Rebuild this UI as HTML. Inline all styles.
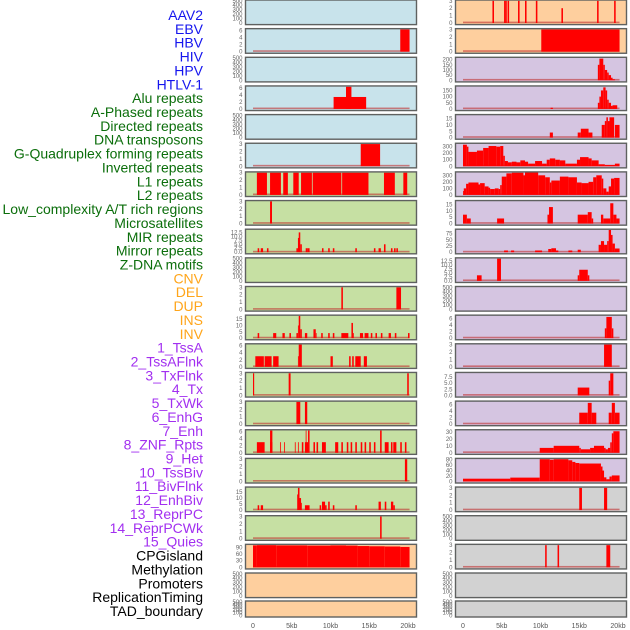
<!DOCTYPE html>
<html><head><meta charset="utf-8">
<style>
html,body{margin:0;padding:0;background:#fff;}
svg{display:block;font-family:"Liberation Sans",sans-serif;}
</style></head>
<body>
<svg id="chart" width="630" height="630" viewBox="0 0 630 630" xmlns="http://www.w3.org/2000/svg">
<g id="labels"></g>
<g id="panels"></g>
<g id="xaxis"></g>
</svg>
<script>
// ---- data ----
const trackLabels = ["AAV2","EBV","HBV","HIV","HPV","HTLV-1","Alu repeats","A-Phased repeats","Directed repeats","DNA transposons","G-Quadruplex forming repeats","Inverted repeats","L1 repeats","L2 repeats","Low_complexity A/T rich regions","Microsatellites","MIR repeats","Mirror repeats","Z-DNA motifs","CNV","DEL","DUP","INS","INV","1_TssA","2_TssAFlnk","3_TxFlnk","4_Tx","5_TxWk","6_EnhG","7_Enh","8_ZNF_Rpts","9_Het","10_TssBiv","11_BivFlnk","12_EnhBiv","13_ReprPC","14_ReprPCWk","15_Quies","CPGisland","Methylation","Promoters","ReplicationTiming","TAD_boundary"];
const labelGroups = [6,13,5,15,5];
const xTicks = [0,5,10,15,20];
const xTickLabels = ["0","5kb","10kb","15kb","20kb"];

const leftBg = ["b","b","b","b","b","b","g","g","g","g","g","g","g","g","g","g","g","g","g","o","o","o"];
const leftMax = [500,6.3,500,6.3,500,3,3,3,14,500,3,17.5,6.3,3,3,6.3,3,18.5,3,100,500,500];
const leftHasData = [0,1,0,1,0,1,1,1,1,0,1,1,1,1,1,1,1,1,1,1,0,0];
const leftSegs = [
 [],
 [[19.0,20.2,6.3]],
 [],
 [[10.4,14.6,3.4],[12.0,12.7,6.3]],
 [],
 [[13.9,16.4,3]],
 [[0.5,1.8,3],[2.2,3.6,3],[3.9,4.5,3],[5.2,5.9,3],[6.2,7.6,3],[7.7,11.4,3],[11.5,14.9,3],[16.9,18.3,3],[19.4,19.9,3]],
 [[2.2,2.45,3]],
 [[0.6,0.8,2.5],[1.0,1.3,2.5],[1.8,2.0,2.5],[5.6,5.8,2.5],[5.8,6.0,9],[5.9,6.1,12.5],[6.1,6.3,5],[6.8,7.0,2.5],[7.0,7.3,2.5],[8.9,9.1,2.5],[9.7,9.9,2.5],[10.3,10.5,2.5],[13.2,13.4,2.5],[15.6,15.8,2.5],[16.2,16.5,2.5],[16.9,17.1,5],[17.8,18.0,2.5],[18.2,18.4,2.5],[18.5,18.7,2.5]],
 [],
 [[11.4,11.6,3],[18.5,19.1,3]],
 [[0.6,0.8,4],[2.6,3.0,4],[3.8,4.1,4],[4.7,4.9,4],[5.6,5.8,4],[5.8,5.9,10],[5.9,6.1,17.5],[6.1,6.3,7],[6.7,7.0,4],[7.8,8.1,7],[8.1,8.2,4],[8.8,9.0,4],[9.7,9.9,4],[10.3,10.5,4],[11.4,12.3,4],[12.7,12.9,12],[12.9,13.0,4],[13.8,14.2,4],[14.4,14.9,4],[15.2,15.4,4],[15.8,16.0,4],[16.5,16.7,4],[17.5,17.8,4],[18.3,18.5,4],[20.0,20.2,4]],
 [[0.3,1.4,3],[1.5,2.4,3],[2.6,3.3,3],[5.8,5.9,3],[5.9,6.3,6.3],[10.0,10.3,3],[12.4,12.6,3],[12.8,13.0,3],[13.2,13.9,3],[14.3,14.7,3]],
 [[0,0.15,3],[4.6,4.85,3],[19.9,20.1,3]],
 [[5.6,6.1,3],[6.7,7.0,3]],
 [[0.5,1.5,3],[2.2,2.5,6.3],[2.2,2.5,3],[3.5,3.6,3],[4.0,4.1,3],[5.4,5.5,3],[5.8,5.9,3],[6.3,6.5,3],[6.7,7.1,3],[6.8,6.9,6.3],[7.1,7.3,6.3],[7.8,8.0,3],[8.2,8.4,3],[8.9,9.4,3],[10.6,11.0,3],[11.4,11.6,3],[12.1,12.3,3],[12.6,12.8,3],[13.2,13.4,3],[13.9,14.1,3],[14.4,14.6,3],[15.0,15.2,3],[15.6,15.8,3],[16.4,16.6,6.3],[17.0,17.5,3],[17.8,18.0,3],[18.1,18.5,3],[19.0,19.2,3],[19.6,19.8,3]],
 [[19.6,19.9,3]],
 [[0.6,0.8,4],[1.0,1.3,4],[5.7,5.8,13],[5.8,6.0,18.5],[6.0,6.2,10],[6.2,6.3,6],[6.7,7.3,4],[8.6,8.8,4],[8.9,9.3,7],[9.3,9.5,4],[9.7,9.9,7],[10.3,10.5,4],[13.2,13.4,4],[16.2,16.5,7],[17.0,17.2,7],[17.8,18.1,7],[18.1,18.3,4]],
 [[16.4,16.6,3]],
 [[0,0.5,99],[0.5,3,100],[3,7,99],[7,10,98],[10,12,99],[12,13.5,98],[13.5,15,96],[15,17,95],[17,19,94],[19,20.2,92]],
 [],
 []
];

const rightBg = ["o","o","p","p","p","p","p","p","p","p","p","p","p","p","p","p","p","y","y","y","y","y"];
const rightMax = [3,3,215,180,17.5,340,340,17.5,90,14,500,6.8,3,9,6.8,32,82,3,500,3,500,500];
const rightHasData = [1,1,1,1,1,1,1,1,1,1,0,1,1,1,1,1,1,1,0,1,0,0];
const rightSegs = [
 [[3.8,4.0,3],[5.3,5.5,3],[5.5,5.65,3],[5.75,5.95,3],[7.1,7.3,3],[8.0,8.2,3],[9.4,9.6,3],[12.7,12.9,2],[17.3,17.5,3],[19.5,19.7,3]],
 [[10.1,20.2,3]],
 [[17.4,17.6,150],[17.6,18.1,210],[18.1,18.3,150],[18.3,18.6,100],[18.6,18.8,75],[18.8,19.1,50],[19.1,19.3,25],[19.3,19.6,10]],
 [[11.3,11.6,10],[17.4,17.6,50],[17.6,17.8,100],[17.8,18.1,150],[18.1,18.4,175],[18.4,18.6,150],[18.6,18.8,75],[18.8,19.1,50],[19.1,19.3,25],[19.3,19.9,30]],
 [[11.2,11.6,4],[14.8,15.2,4],[15.2,16.2,7],[16.2,16.7,4],[17.9,18.3,10],[18.3,18.5,13],[18.5,18.7,16],[18.7,18.9,13],[18.9,19.5,16],[19.6,20.2,10]],
 [[0,0.5,330],[0.5,0.7,300],[0.7,1.8,220],[1.8,2.6,240],[2.6,3.3,280],[3.3,4.3,310],[4.3,4.8,300],[4.8,5.2,310],[5.2,5.4,160],[5.4,5.8,80],[5.8,6.3,60],[6.3,6.9,70],[6.9,7.4,60],[7.4,8.0,90],[8.0,8.4,70],[8.4,9.3,40],[9.3,10.2,80],[10.2,10.8,40],[10.8,11.2,100],[11.2,11.9,120],[11.9,12.5,100],[12.5,13.2,90],[13.2,14.7,40],[14.7,15.1,100],[15.1,16.2,140],[16.2,16.6,120],[16.6,17.5,90],[17.5,18.3,30],[18.3,19.6,20],[19.6,20.2,40]],
 [[0,0.1,60],[0.1,0.4,100],[0.4,0.7,170],[0.7,2.0,190],[2.0,2.2,160],[2.2,2.8,180],[2.8,3.3,130],[3.3,3.5,110],[3.5,4.1,90],[4.1,4.6,100],[4.6,4.8,90],[4.8,5.0,150],[5.0,5.6,280],[5.6,6.3,330],[6.3,7.8,340],[7.8,8.0,300],[8.0,9.7,350],[9.7,10.6,300],[10.6,11.2,270],[11.2,11.4,190],[11.4,12.5,220],[12.5,13.6,280],[13.6,14.7,270],[14.7,15.3,190],[15.3,16.2,180],[16.2,16.8,200],[16.8,17.2,270],[17.2,17.9,300],[17.9,18.1,250],[18.1,18.5,100],[18.5,18.8,50],[18.8,19.1,130],[19.1,19.5,250],[19.5,20.2,260]],
 [[0,0.5,7],[0.5,1.0,4],[4.4,5.3,4],[10.9,11.2,7],[11.1,11.6,13],[14.8,16.1,7],[16.1,16.6,9],[16.6,16.8,4],[17.8,18.1,7],[18.1,19.0,4],[19.0,19.4,16],[19.4,19.8,7],[19.8,20.2,4]],
 [[5.3,5.8,7],[6.2,6.6,7],[9.3,10.2,7],[11.0,11.4,13],[11.4,12.0,16],[12.0,12.3,7],[13.6,14.1,7],[14.8,15.2,10],[17.5,17.8,30],[17.8,18.2,45],[18.2,18.6,30],[18.6,18.8,45],[18.8,19.1,90],[19.1,19.3,70],[19.3,19.6,35],[19.6,20.2,15]],
 [[1.8,2.4,3.5],[4.4,4.9,14],[14.8,15.0,3.5],[15.0,16.1,7],[16.1,16.3,3.5]],
 [],
 [[18.3,18.5,3],[18.5,19.2,6.5],[19.2,19.4,3]],
 [[18.2,19.2,3]],
 [[14.8,16.3,3.2],[18.8,19.0,6],[19.0,19.4,9]],
 [[15.0,16.1,3.5],[16.1,16.6,6.5],[16.6,17.2,3.5],[18.8,19.2,3.5],[19.2,19.6,6.5],[19.6,20.2,3.5]],
 [[9.9,11.7,7],[11.7,15.0,10],[15.0,15.2,7],[15.2,16.4,5],[16.4,16.9,7],[16.9,18.2,10],[18.2,18.4,7],[18.4,18.7,5],[18.7,19.0,7],[19.0,19.2,15],[19.2,19.4,28],[19.4,20.2,31]],
 [[0,6.1,10],[6.1,9.9,14],[9.9,11.2,82],[11.2,11.7,80],[11.7,13.6,82],[13.6,14.1,78],[14.1,14.5,72],[14.5,15.0,68],[15.0,17.8,66],[17.8,18.0,55],[18.0,18.2,40],[18.2,18.5,15],[18.5,18.9,8],[18.9,19.2,18],[19.2,20.2,22]],
 [[15.0,15.35,3],[18.2,18.6,3]],
 [],
 [[10.6,10.8,3],[12.2,12.4,3],[18.5,19.0,3]],
 [],
 []
];

const tickSets = {
 500:[0,100,200,300,400,500], 6.3:[0,2,4,6], 3:[0,1,2,3], 14:[0,2.5,5,7.5,10,12.5],
 17.5:[0,5,10,15], 18.5:[0,5,10,15], 100:[0,30,60,90], 215:[0,50,100,150,200],
 180:[0,50,100,150], 340:[0,100,200,300], 90:[0,25,50,75], 6.8:[0,2,4,6],
 9:[0,2.5,5,7.5], 32:[0,10,20,30], 82:[0,20,40,60,80]
};
function fmtTick(t, mx){
  if (mx===14 || mx===9) return t.toFixed(1);
  return String(t);
}
const bgColors = {b:"#c8e3eb", g:"#c6e0a3", o:"#fecf9e", p:"#d5c5e1", y:"#d2d2d2"};
const groupColors = ["#1515ee","#0b6e0b","#ffa51a","#a22ff0","#000000"];

// ---- drawing ----
const NS = "http://www.w3.org/2000/svg";
function mk(tag, attrs, parent){
  const e = document.createElementNS(NS, tag);
  for (const k in attrs) e.setAttribute(k, attrs[k]);
  parent.appendChild(e); return e;
}
const labelsG = document.getElementById("labels");
let gi = 0, cnt = 0;
trackLabels.forEach((t, i) => {
  while (cnt >= labelGroups[gi]) { cnt = 0; gi++; }
  cnt++;
  const y = 15 + i * 13.86;
  const tx = mk("text", {x:203, y:y+5, "text-anchor":"end", "font-size":"14", fill:groupColors[gi]}, labelsG);
  tx.textContent = t;
  
  
});

const panelsG = document.getElementById("panels");
function rowTop(i){ return i < 21 ? i * 28.65 : 601; }
function rowH(i){ return i < 21 ? 24.6 : 16; }

function drawColumn(bgs, maxes, hasData, segs, boxX, zeroX, colName){
  const kbPx = 7.75;
  const xs = kb => zeroX + kb * kbPx;
  bgs.forEach((bg, i) => {
    const top = rowTop(i), h = rowH(i);
    const g = mk("g", {}, panelsG);
    
    
    const y0 = top + h - 1.6, y1 = top + 0.8;
    const mx = maxes[i];
    const ys = v => y0 - (v / mx) * (y0 - y1);
    mk("rect", {x:boxX, y:top, width:171, height:h, fill:bgColors[bg]}, g);
    if (hasData[i]) {
      const bl = mk("rect", {x:xs(0), y:y0-1.4, width:20.2*kbPx, height:1.6, fill:"#c03030", opacity:"0.6"}, g);
      
      
    }
    segs[i].forEach(s => {
      const r = mk("rect", {x:xs(s[0]), y:ys(s[2]), width:Math.max(0.8, xs(s[1]) - xs(s[0])), height:y0 - ys(s[2]), fill:"#ff0000"}, g);
      
      
    });
    mk("rect", {x:boxX, y:top, width:171, height:h, fill:"none", stroke:"#5f6160", "stroke-width":"1.4"}, g);
    const ticks = tickSets[mx];
    ticks.forEach(t => {
      const tt = mk("text", {x:boxX - 3, y:ys(t) + 2, "text-anchor":"end", "font-size":"6", fill:"#666"}, g);
      tt.textContent = fmtTick(t, mx);
      
      
    });
  });
  const xg = document.getElementById("xaxis");
  xTicks.forEach((t, k) => {
    const tt = mk("text", {x:xs(t), y:628, "text-anchor":"middle", "font-size":"7", fill:"#555"}, xg);
    tt.textContent = xTickLabels[k];
    
    
  });
}
drawColumn(leftBg, leftMax, leftHasData, leftSegs, 245.5, 253, "left");
drawColumn(rightBg, rightMax, rightHasData, rightSegs, 455.5, 463, "right");
</script>
</body></html>
